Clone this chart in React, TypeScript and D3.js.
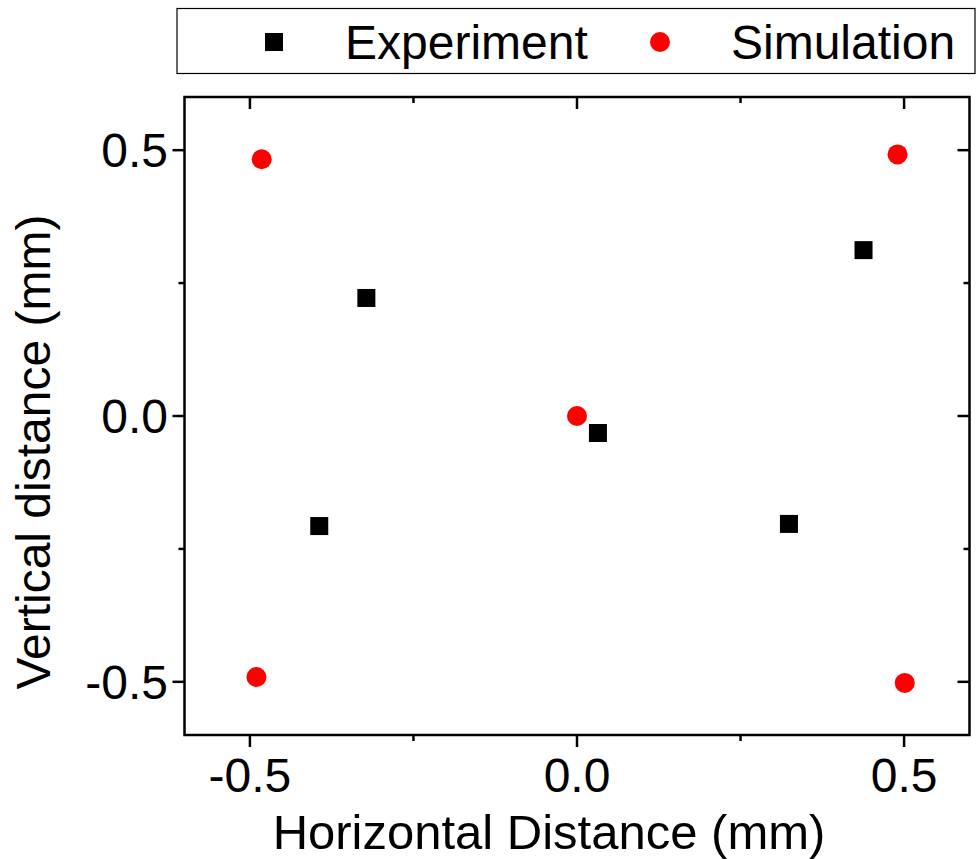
import React from "react";
import * as d3 from "d3";

const expX = [-0.322, -0.394, 0.032, 0.324, 0.438];
const expY = [0.222, -0.207, -0.032, -0.203, 0.312];
const simX = [-0.482, 0, 0.49, -0.49, 0.501];
const simY = [0.483, 0, 0.492, -0.491, -0.502];
const majorTicks = [-0.5, 0, 0.5];
const minorTicks = [-0.25, 0.25];
const tickLabels = ["-0.5", "0.0", "0.5"];

const W = 980, H = 859;
const L = 184.5, R = 969.5, T = 97, B = 735;
const FONT = "'Liberation Sans', Arial, sans-serif";

export default function App() {
  const x = d3.scaleLinear().domain([-0.6, 0.6]).range([L, R]);
  const y = d3.scaleLinear().domain([-0.6, 0.6]).range([B, T]);
  const sw = 2.5;
  return (
    <svg width={W} height={H} style={{ position: "absolute", left: 0, top: 0, background: "#fff" }} fontFamily={FONT}>
      <rect x={0} y={0} width={W} height={H} fill="#fff" />
      {/* legend */}
      <rect x={177} y={8.5} width={798} height={65} fill="#fff" stroke="#000" strokeWidth={1.2} />
      <rect x={265} y={33} width={18} height={18} fill="#000" />
      <text x={345} y={59} fontSize={48} fill="#000">Experiment</text>
      <circle cx={660} cy={42} r={10} fill="#ff0000" />
      <text x={731} y={59} fontSize={48} fill="#000">Simulation</text>

      {/* frame */}
      <rect x={L} y={T} width={R - L} height={B - T} fill="none" stroke="#000" strokeWidth={sw} />
      {majorTicks.map((v, i) => (
        <g key={"mx" + i}>
          <line x1={x(v)} x2={x(v)} y1={B} y2={B + 12} stroke="#000" strokeWidth={sw} />
          <line x1={x(v)} x2={x(v)} y1={T} y2={T + 12} stroke="#000" strokeWidth={sw} />
          <line x1={L} x2={L - 12} y1={y(v)} y2={y(v)} stroke="#000" strokeWidth={sw} />
          <line x1={R} x2={R - 12} y1={y(v)} y2={y(v)} stroke="#000" strokeWidth={sw} />
          <text x={x(v)} y={792} fontSize={48} textAnchor="middle">{tickLabels[i]}</text>
          <text x={168} y={y(v) + 17} fontSize={48} textAnchor="end">{tickLabels[i]}</text>
        </g>
      ))}
      {minorTicks.map((v, i) => (
        <g key={"mn" + i}>
          <line x1={x(v)} x2={x(v)} y1={B} y2={B + 6} stroke="#000" strokeWidth={sw} />
          <line x1={x(v)} x2={x(v)} y1={T} y2={T + 6} stroke="#000" strokeWidth={sw} />
          <line x1={L} x2={L - 6} y1={y(v)} y2={y(v)} stroke="#000" strokeWidth={sw} />
          <line x1={R} x2={R - 6} y1={y(v)} y2={y(v)} stroke="#000" strokeWidth={sw} />
        </g>
      ))}

      {/* data */}
      {expX.map((v, i) => (
        <rect key={"e" + i} x={x(v) - 9} y={y(expY[i]) - 9} width={18} height={18} fill="#000" />
      ))}
      {simX.map((v, i) => (
        <circle key={"s" + i} cx={x(v)} cy={y(simY[i])} r={10} fill="#ff0000" />
      ))}

      {/* axis titles */}
      <text x={549} y={849} fontSize={49} textAnchor="middle">Horizontal Distance (mm)</text>
      <text transform={`translate(50, 452) rotate(-90)`} fontSize={48} textAnchor="middle">Vertical distance (mm)</text>
    </svg>
  );
}
